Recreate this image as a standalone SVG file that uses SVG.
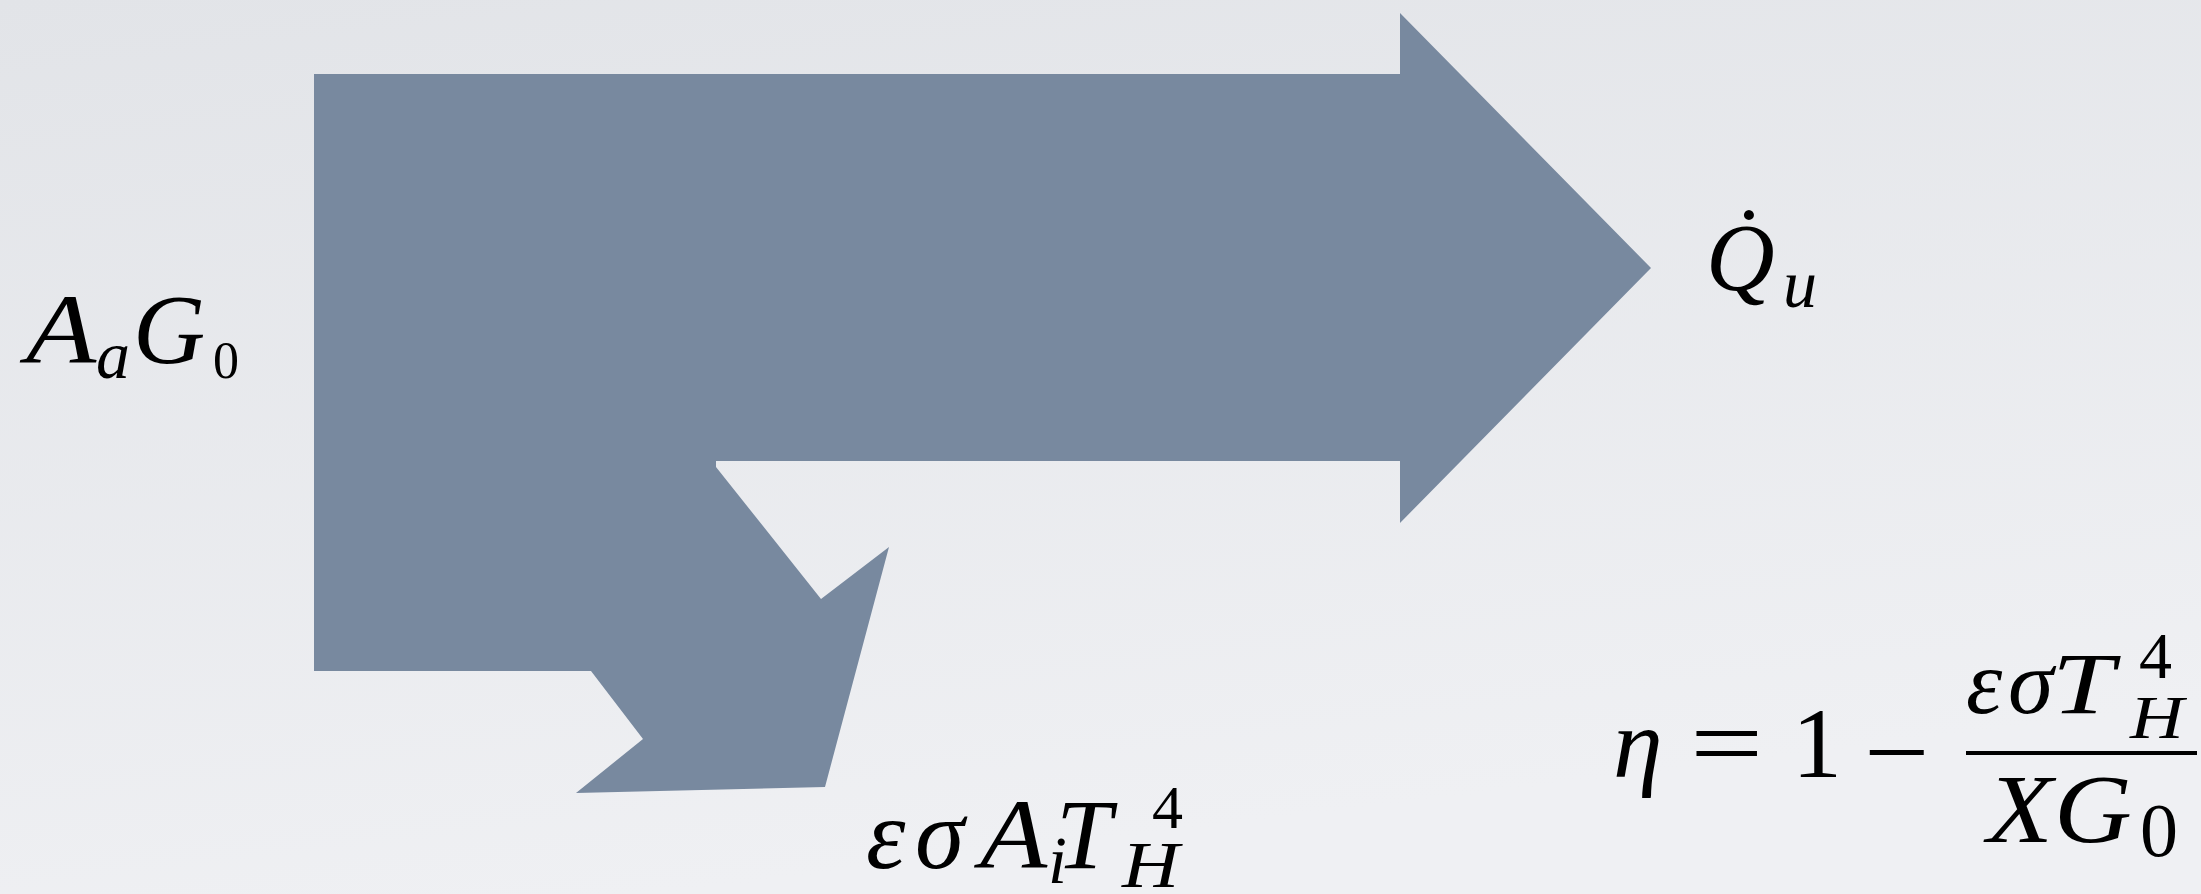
<svg xmlns="http://www.w3.org/2000/svg" width="2201" height="894" viewBox="0 0 2201 894">
<defs>
<linearGradient id="bg" x1="0" y1="0" x2="0.3" y2="1">
<stop offset="0" stop-color="#e2e4e8"/>
<stop offset="1" stop-color="#eff0f3"/>
</linearGradient>
<style>
.m{font-family:"Liberation Serif","Times New Roman",serif;font-style:italic;fill:#000}
.r{font-family:"Liberation Serif","Times New Roman",serif;font-style:normal;fill:#000}
.flow{fill:#78899f;stroke:none}
</style>
</defs>
<rect x="0" y="0" width="2201" height="894" fill="url(#bg)"/>
<g id="connectors">
<polygon class="flow" points="314,74 1400,74 1400,13 1651,268 1400,523 1400,461 716,461 716,467 821,599 889,547 825,787 576,793 643,739 591,671 314,671"/>
</g>
<g id="input-AaG0">
<text class="m" transform="translate(26,363) scale(1.15,1)" font-size="100">A</text>
<text class="m" x="96" y="378" font-size="68">a</text>
<text class="m" x="133" y="363" font-size="100">G</text>
<text class="r" x="213" y="378" font-size="52">0</text>
</g>
<g id="output-Qu">
<text class="m" x="1706" y="290" font-size="95">Q</text>
<text class="r" x="1733" y="273" font-size="95">˙</text>
<text class="m" x="1783" y="307" font-size="68">u</text>
</g>
<g id="loss-eps-sigma">
<text class="m" x="866" y="868" font-size="100">ε</text>
<text class="m" x="915" y="868" font-size="100">σ</text>
<text class="m" transform="translate(980,868) scale(1.1,1)" font-size="100">A</text>
<text class="m" x="1048" y="883" font-size="68">i</text>
<text class="m" x="1056" y="868" font-size="100">T</text>
<text class="r" x="1152" y="828" font-size="62">4</text>
<text class="m" transform="translate(1122,887) scale(1.2,1)" font-size="66">H</text>
</g>
<g id="efficiency">
<text class="m" x="1613" y="777" font-size="100">η</text>
<text class="r" transform="translate(1690,777) scale(1.3,1)" font-size="100">=</text>
<text class="r" x="1792" y="777" font-size="100">1</text>
<text class="r" transform="translate(1864,786) scale(1.16,1)" font-size="100">−</text>
<line x1="1966" y1="753" x2="2197" y2="753" stroke="#000" stroke-width="4"/>
<text class="m" x="1966" y="713" font-size="92">ε</text>
<text class="m" x="2008" y="713" font-size="92">σ</text>
<text class="m" transform="translate(2052,713) scale(1.3,1)" font-size="86">T</text>
<text class="r" x="2139" y="678" font-size="66">4</text>
<text class="m" transform="translate(2130,738) scale(1.2,1)" font-size="62">H</text>
<text class="m" transform="translate(1987,842) scale(1.1,1)" font-size="98">X</text>
<text class="m" transform="translate(2054,842) scale(1.1,1)" font-size="98">G</text>
<text class="r" x="2140" y="856" font-size="76">0</text>
</g>
</svg>
